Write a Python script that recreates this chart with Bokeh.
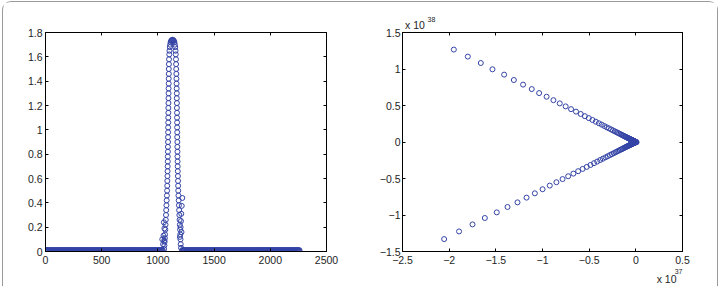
from bokeh.plotting import figure
from bokeh.layouts import row
from bokeh.models import LinearAxis, FixedTicker, Range1d, Title, CustomJSTickFormatter
from bokeh.embed import file_html
from bokeh.resources import INLINE
import numpy as np

# ---------------- data: left panel ----------------
x1_ticks = [0, 500, 1000, 1500, 2000, 2500]
x1_labels = ["0", "500", "1000", "1500", "2000", "2500"]
y1_ticks = [0, 0.2, 0.4, 0.6, 0.8, 1.0, 1.2, 1.4, 1.6, 1.8]
y1_labels = ["0", "0.2", "0.4", "0.6", "0.8", "1", "1.2", "1.4", "1.6", "1.8"]

# flat part of the signal (index ranges where the value stays near zero)
flat_level = 0.01
flat_left_range = (3, 1045)
flat_right_range = (1215, 2262)
flat_step = 5

# rising side of the peak (bottom -> top)
rise_x = [1055, 1058, 1060, 1062, 1064, 1066, 1068, 1070, 1072, 1074, 1076, 1078,
          1080, 1082, 1083, 1084, 1085, 1086, 1087, 1088, 1088, 1089, 1089, 1090,
          1090, 1091, 1091, 1092, 1092, 1093, 1093, 1094, 1094, 1095, 1095, 1096,
          1096, 1097, 1097, 1098, 1099, 1101, 1103, 1106, 1109, 1113, 1117, 1122, 1127]
rise_y = [0.02, 0.05, 0.08, 0.11, 0.14, 0.18, 0.22, 0.26, 0.30, 0.34, 0.38, 0.42,
          0.46, 0.50, 0.54, 0.58, 0.62, 0.66, 0.70, 0.74, 0.78, 0.82, 0.86, 0.90,
          0.94, 0.98, 1.02, 1.06, 1.10, 1.14, 1.18, 1.22, 1.26, 1.30, 1.34, 1.38,
          1.42, 1.46, 1.50, 1.54, 1.58, 1.62, 1.65, 1.68, 1.70, 1.72, 1.73, 1.735, 1.74]
# falling side of the peak (top -> bottom)
fall_x = [1133, 1138, 1143, 1147, 1151, 1154, 1157, 1159, 1161, 1162, 1163, 1164,
          1165, 1166, 1167, 1168, 1168, 1169, 1169, 1170, 1170, 1171, 1171, 1172,
          1172, 1173, 1173, 1174, 1174, 1175, 1176, 1177, 1178, 1179, 1180, 1181,
          1183, 1185, 1187, 1189, 1191, 1193, 1195, 1197, 1199, 1201, 1203, 1206]
fall_y = [1.74, 1.735, 1.73, 1.72, 1.70, 1.68, 1.65, 1.62, 1.58, 1.54, 1.50, 1.46,
          1.42, 1.38, 1.34, 1.30, 1.26, 1.22, 1.18, 1.14, 1.10, 1.06, 1.02, 0.98,
          0.94, 0.90, 0.86, 0.82, 0.78, 0.74, 0.70, 0.66, 0.62, 0.58, 0.54, 0.50,
          0.46, 0.42, 0.38, 0.34, 0.30, 0.26, 0.22, 0.18, 0.14, 0.10, 0.06, 0.03]
# scattered points at the foot of the peak
foot_x = [1039, 1046, 1050, 1053, 1056, 1058, 1196, 1202, 1205, 1208, 1212, 1217, 1210]
foot_y = [0.10, 0.06, 0.13, 0.24, 0.09, 0.19, 0.12, 0.20, 0.25, 0.31, 0.375, 0.44, 0.16]

# ---------------- data: right panel (x in 1e37, y in 1e38) ----------------
x2_ticks = [-2.5, -2.0, -1.5, -1.0, -0.5, 0.0, 0.5]
x2_labels = ["\u22122.5", "\u22122", "\u22121.5", "\u22121", "\u22120.5", "0", "0.5"]
y2_ticks = [-1.5, -1.0, -0.5, 0.0, 0.5, 1.0, 1.5]
y2_labels = ["\u22121.5", "\u22121", "\u22120.5", "0", "0.5", "1", "1.5"]
x2_exponent = "37"
y2_exponent = "38"

upper_x = [-1.950, -1.800, -1.661, -1.536, -1.411, -1.307, -1.208, -1.115, -1.036,
           -0.956, -0.883, -0.815, -0.752, -0.694, -0.641, -0.591, -0.546, -0.504,
           -0.465, -0.429, -0.396, -0.366, -0.338, -0.312, -0.288, -0.265, -0.245,
           -0.226, -0.209, -0.193, -0.178, -0.164, -0.152, -0.140, -0.129, -0.119,
           -0.110, -0.102, -0.094, -0.087, -0.080, -0.074, -0.068, -0.063, -0.058,
           -0.054, -0.049, -0.046, -0.042, -0.039, -0.036, -0.033, -0.030, -0.028,
           -0.026, -0.024, -0.022, -0.020, -0.019, -0.017, -0.016, -0.015, -0.014,
           -0.013, -0.012]
upper_y = [1.266, 1.170, 1.082, 0.996, 0.923, 0.849, 0.786, 0.725, 0.670,
           0.620, 0.573, 0.529, 0.488, 0.450, 0.416, 0.384, 0.354, 0.327,
           0.302, 0.278, 0.257, 0.238, 0.219, 0.202, 0.187, 0.172, 0.159,
           0.147, 0.136, 0.125, 0.116, 0.106, 0.099, 0.091, 0.084, 0.077,
           0.071, 0.066, 0.061, 0.056, 0.052, 0.048, 0.044, 0.041, 0.038,
           0.035, 0.032, 0.030, 0.027, 0.025, 0.023, 0.021, 0.019, 0.018,
           0.017, 0.016, 0.014, 0.013, 0.012, 0.011, 0.010, 0.010, 0.009,
           0.008, 0.008]
lower_x = [-2.054, -1.894, -1.750, -1.618, -1.490, -1.375, -1.268, -1.171, -1.082,
           -0.999, -0.922, -0.851, -0.785, -0.725, -0.669, -0.618, -0.570, -0.526,
           -0.486, -0.448, -0.414, -0.382, -0.353, -0.325, -0.300, -0.277, -0.256,
           -0.236, -0.218, -0.201, -0.186, -0.171, -0.158, -0.146, -0.135, -0.124,
           -0.115, -0.106, -0.098, -0.090, -0.083, -0.077, -0.071, -0.066, -0.060,
           -0.056, -0.052, -0.048, -0.044, -0.040, -0.037, -0.034, -0.032, -0.029,
           -0.027, -0.025, -0.023, -0.021, -0.020, -0.018, -0.017, -0.015, -0.014,
           -0.013]
lower_y = [-1.330, -1.225, -1.129, -1.041, -0.964, -0.890, -0.827, -0.762, -0.703,
           -0.647, -0.597, -0.551, -0.508, -0.469, -0.433, -0.400, -0.369, -0.341,
           -0.315, -0.290, -0.268, -0.247, -0.229, -0.210, -0.194, -0.179, -0.166,
           -0.153, -0.141, -0.130, -0.120, -0.111, -0.102, -0.095, -0.087, -0.080,
           -0.074, -0.069, -0.063, -0.058, -0.054, -0.050, -0.046, -0.043, -0.039,
           -0.036, -0.034, -0.031, -0.028, -0.026, -0.024, -0.022, -0.021, -0.019,
           -0.017, -0.016, -0.015, -0.014, -0.013, -0.012, -0.011, -0.010, -0.009,
           -0.008]
vertex_x = [-0.008, -0.004, 0.0, 0.004, 0.008]
vertex_y = [0.004, 0.002, 0.0, -0.002, -0.003]

# ---------------- styling ----------------
MARK = "#3444a6"
TXT = "#1e1e1e"
FONT = "Liberation Sans"
BLANK = CustomJSTickFormatter(code="return ''")


def style(p, xt, xl, yt, yl, xstand, ystand):
    p.grid.visible = False
    p.outline_line_color = "black"
    p.outline_line_width = 1
    p.background_fill_color = "white"
    p.border_fill_color = "white"
    for ax in p.xaxis:
        ax.ticker = FixedTicker(ticks=xt)
        ax.major_label_overrides = {t: s for t, s in zip(xt, xl)}
        ax.major_label_standoff = xstand
    for ax in p.yaxis:
        ax.ticker = FixedTicker(ticks=yt)
        ax.major_label_overrides = {t: s for t, s in zip(yt, yl)}
        ax.major_label_standoff = ystand
    for ax in list(p.xaxis) + list(p.yaxis):
        ax.axis_line_color = "black"
        ax.major_tick_line_color = "black"
        ax.major_tick_in = 3
        ax.major_tick_out = 0
        ax.minor_tick_line_color = None
        ax.major_label_text_font = FONT
        ax.major_label_text_font_size = "10.5px"
        ax.major_label_text_color = TXT
    top = LinearAxis(ticker=FixedTicker(ticks=xt), major_tick_in=3, major_tick_out=0,
                     minor_tick_line_color=None, formatter=BLANK, major_label_standoff=0,
                     axis_line_color="black")
    right = LinearAxis(ticker=FixedTicker(ticks=yt), major_tick_in=3, major_tick_out=0,
                       minor_tick_line_color=None, formatter=BLANK, major_label_standoff=0,
                       axis_line_color="black")
    p.add_layout(top, "above")
    p.add_layout(right, "right")


p1 = figure(width=357, height=284, x_range=Range1d(0, 2500), y_range=Range1d(0, 1.8),
            output_backend="svg", toolbar_location=None,
            min_border_left=42, min_border_right=34, min_border_top=30, min_border_bottom=35)
style(p1, x1_ticks, x1_labels, y1_ticks, y1_labels, 4, 3)

fl_x = np.arange(flat_left_range[0], flat_left_range[1] + 1, flat_step)
fr_x = np.arange(flat_right_range[0], flat_right_range[1] + 1, flat_step)
flat_x = np.concatenate([fl_x, fr_x])
flat_y = np.full(len(flat_x), flat_level)
p1.scatter(flat_x, flat_y, marker="circle", size=5, fill_color=None, line_color=MARK, line_width=1)
p1.scatter(rise_x + fall_x + foot_x, rise_y + fall_y + foot_y, marker="circle", size=5,
           fill_color=None, line_color=MARK, line_width=1)

p2 = figure(width=357, height=284, x_range=Range1d(-2.5, 0.5), y_range=Range1d(-1.5, 1.5),
            output_backend="svg", toolbar_location=None,
            min_border_left=42, min_border_right=35, min_border_top=30, min_border_bottom=35)
style(p2, x2_ticks, x2_labels, y2_ticks, y2_labels, 4, 2)
p2.scatter(upper_x + lower_x + vertex_x, upper_y + lower_y + vertex_y, marker="circle", size=5,
           fill_color=None, line_color=MARK, line_width=1)

# exponent annotations (placed in the side panels so they are not clipped)
p2.add_layout(Title(text="x 10", align="left", offset=2.5, standoff=3, text_font=FONT,
                    text_font_size="10.5px", text_color=TXT, text_font_style="normal"), "above")
p2.add_layout(Title(text=y2_exponent, align="left", offset=25, standoff=-12, text_font=FONT,
                    text_font_size="7px", text_color=TXT, text_font_style="normal"), "above")
p2.add_layout(Title(text=x2_exponent, align="right", offset=0, standoff=0, text_font=FONT,
                    text_font_size="7px", text_color=TXT, text_font_style="normal"), "below")
p2.add_layout(Title(text="x 10", align="right", offset=6, standoff=-5, text_font=FONT,
                    text_font_size="10.5px", text_color=TXT, text_font_style="normal"), "below")

layout = row(p1, p2, styles={"border": "1px solid #9a9a9a", "border-bottom": "none",
                             "border-radius": "9px 9px 0 0", "margin-left": "2px",
                             "margin-top": "1px", "background-color": "white"})

open("out.html", "w").write(file_html(layout, INLINE))
